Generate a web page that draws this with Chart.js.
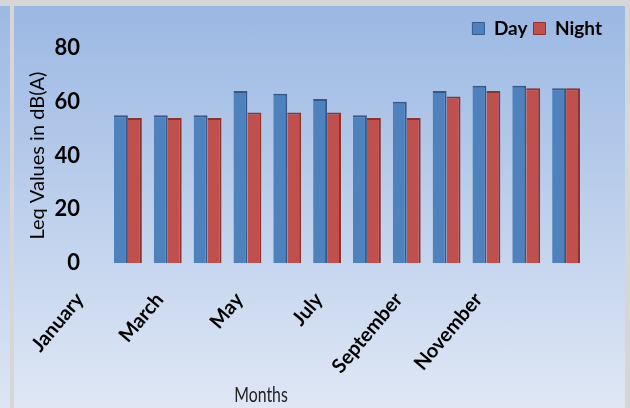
<!DOCTYPE html>
<html>
<head>
<meta charset="utf-8">
<script src="https://cdn.jsdelivr.net/npm/chart.js@4.4.1/dist/chart.umd.min.js"></script>
<style>
  html, body { margin: 0; padding: 0; }
  body { width: 630px; height: 408px; background: #d6d6d6; position: relative; overflow: hidden; }
  #leftStrip { position: absolute; left: 0; top: 6px; width: 10px; height: 402px; background: linear-gradient(#9db9e4, #dce5f4); }
  #panel { position: absolute; left: 14px; top: 6px; width: 611px; height: 402px; background: linear-gradient(#9bb8e3, #dfe7f5); }
  #monthsTitle { position: absolute; left: 211px; width: 100px; top: 380px; text-align: center; font-family: Lato, sans-serif; font-size: 22px; color: #222; transform: scaleX(0.72); }
</style>
</head>
<body>
<div id="leftStrip"></div>
<div id="panel"><canvas id="graficoMeses" width="611" height="402"></canvas></div>
<div id="monthsTitle">Months</div>
<script>
// datos
const meses = ['January', 'February', 'March', 'April', 'May', 'June', 'July', 'August', 'September', 'October', 'November', 'December'];
const valoresDia = [55, 55, 55, 64, 63, 61, 55, 60, 64, 66, 66, 65];
const valoresNoche = [54, 54, 54, 56, 56, 56, 54, 54, 62, 64, 65, 65];
const ticksY = [0, 20, 40, 60, 80];

const ctxMeses = document.getElementById('graficoMeses').getContext('2d');

new Chart(ctxMeses, {
    type: 'bar',
    data: {
        labels: meses,
        datasets: [{
            label: 'Day',
            data: valoresDia,
            backgroundColor: '#4f81bd',
            borderColor: '#34598a',
            borderWidth: { top: 2, right: 2, left: 0, bottom: 0 },
            borderSkipped: false
        }, {
            label: 'Night',
            data: valoresNoche,
            backgroundColor: '#c0504d',
            borderColor: '#8a3331',
            borderWidth: { top: 2, right: 2, left: 0, bottom: 0 },
            borderSkipped: false
        }]
    },
    options: {
        responsive: false,
        animation: false,
        layout: { padding: { top: 7, left: 9, right: 17, bottom: 13 } },
        plugins: {
            legend: {
                position: 'top',
                align: 'end',
                labels: {
                    boxWidth: 12,
                    boxHeight: 12,
                    padding: 6,
                    color: '#000',
                    font: { family: 'Lato', size: 19, weight: 'bold' }
                }
            },
            tooltip: { enabled: false }
        },
        datasets: {
            bar: { categoryPercentage: 0.7, barPercentage: 1.0 }
        },
        scales: {
            x: {
                grid: { display: false },
                border: { display: false },
                ticks: {
                    autoSkip: false,
                    minRotation: 50,
                    maxRotation: 50,
                    padding: 17,
                    labelOffset: -48,
                    color: '#000',
                    font: { family: 'Lato', size: 20, weight: 'bold' },
                    callback: function (value, index) {
                        return index % 2 === 0 ? meses[index] : '';
                    }
                },
                afterFit: function (scale) {
                    // sin relleno lateral por las etiquetas giradas
                    scale.paddingLeft = 0;
                    scale.paddingRight = 0;
                }
            },
            y: {
                min: 0,
                max: 80,
                afterBuildTicks: function (scale) {
                    scale.ticks = ticksY.map(v => ({ value: v }));
                },
                afterFit: function (scale) {
                    scale.width = 85;
                },
                grid: { display: false, drawTicks: false },
                border: { display: false },
                ticks: {
                    padding: 28,
                    color: '#000',
                    font: { family: 'Lato', size: 22, weight: 'bold' }
                },
                title: {
                    display: true,
                    text: 'Leq Values in dB(A)',
                    color: '#000',
                    padding: 3,
                    font: { family: 'Lato', size: 20 }
                }
            },
            yDer: {
                position: 'right',
                display: true,
                grid: { display: false },
                border: { display: false },
                ticks: { display: false },
                afterFit: function (scale) {
                    scale.width = 22;
                }
            }
        }
    }
});
</script>
</body>
</html>
